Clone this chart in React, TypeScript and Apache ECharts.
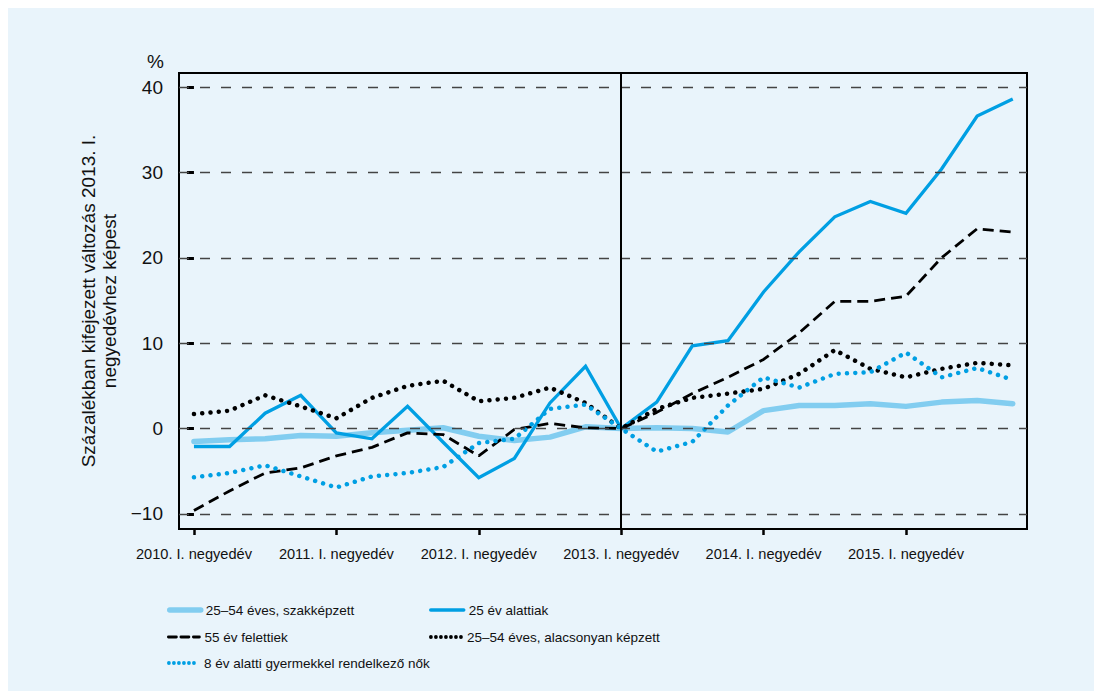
import React, { useEffect, useRef } from "react";
import * as echarts from "echarts";

const TICK_POS = [0, 4, 8, 12, 16, 20];
const TICK_LABELS = [
  "2010. I. negyedév",
  "2011. I. negyedév",
  "2012. I. negyedév",
  "2013. I. negyedév",
  "2014. I. negyedév",
  "2015. I. negyedév",
];
const Y_TICKS = [-10, 0, 10, 20, 30, 40];

const NAMES = [
  "25–54 éves, szakképzett",
  "25 év alattiak",
  "55 év felettiek",
  "25–54 éves, alacsonyan képzett",
  "8 év alatti gyermekkel rendelkező nők",
];

const szakkepzett = [-1.5, -1.3, -1.2, -0.8, -0.9, -0.5, -0.2, 0.1, -0.9, -1.4, -1.0, 0.2, 0, 0.1, 0, -0.4, 2.1, 2.7, 2.7, 2.9, 2.6, 3.1, 3.3, 2.9];
const alatt25 = [-2.1, -2.1, 1.8, 3.9, -0.5, -1.2, 2.6, -1.6, -5.75, -3.5, 3.0, 7.3, 0, 3.1, 9.7, 10.3, 16.0, 20.7, 24.8, 26.6, 25.2, 30.4, 36.6, 38.6];
const felett55 = [-9.6, -7.3, -5.2, -4.6, -3.2, -2.2, -0.5, -0.7, -3.2, -0.1, 0.6, 0.1, 0, 1.9, 4.1, 6.0, 8.1, 11.2, 14.9, 14.9, 15.5, 20.0, 23.4, 23.0];
const alacsony = [1.7, 2.1, 3.9, 2.6, 1.2, 3.6, 5.0, 5.6, 3.2, 3.6, 4.8, 3.0, 0, 2.3, 3.6, 4.1, 4.65, 6.4, 9.2, 7.0, 6.0, 7.0, 7.7, 7.4];
const nok = [-5.7, -5.2, -4.3, -5.6, -6.9, -5.6, -5.2, -4.5, -1.7, -1.2, 2.3, 2.8, 0, -2.7, -1.55, 2.7, 6.0, 4.8, 6.4, 6.6, 8.9, 6.0, 7.1, 5.7];

const LIGHT = "#82cdf0";
const BLUE = "#009fe3";
const BLACK = "#000000";
const PANEL = "#e9f4fb";
const REG = "'Liberation Sans', Arial, sans-serif";

const toPts = (arr: number[]) => arr.map((v, i) => [i, v]);

export default function App() {
  const ref = useRef<HTMLDivElement>(null);
  useEffect(() => {
    if (!ref.current) return;
    const chart = echarts.init(ref.current, null, { renderer: "svg" });

    const legendBase = (name: string, left: number, top: number, width: number, type: any, color: string, lw: number) => ({
      data: [name],
      left,
      top,
      padding: 0,
      itemWidth: width,
      itemHeight: 16,
      selectedMode: false,
      textStyle: { fontFamily: REG, fontSize: 13.5, color: "#111", lineHeight: 16 },
      itemStyle: { color: "rgba(0,0,0,0)", borderWidth: 0, opacity: 0 },
      lineStyle: { width: lw, type, color, cap: "round" },
    });

    const option: any = {
      animation: false,
      textStyle: { fontFamily: REG },
      grid: {
        left: 171,
        top: 65,
        width: 848,
        height: 456,
        show: true,
        borderColor: "#000",
        borderWidth: 2,
        backgroundColor: "transparent",
      },
      xAxis: {
        type: "value",
        min: -0.42,
        max: 23.4,
        splitLine: { show: false },
        axisLine: { show: false, onZero: false },
        axisTick: {
          show: true,
          length: 6,
          customValues: TICK_POS,
          lineStyle: { color: "#000", width: 2.5 },
        },
        axisLabel: {
          customValues: TICK_POS,
          margin: 17,
          fontFamily: REG,
          fontSize: 14.6,
          color: "#111",
          formatter: (v: number) => TICK_LABELS[TICK_POS.indexOf(Math.round(v))] ?? "",
        },
      },
      yAxis: {
        type: "value",
        min: -11.76,
        max: 41.64,
        splitLine: { show: false },
        axisLine: { show: false },
        axisTick: {
          show: true,
          length: 7,
          customValues: Y_TICKS,
          lineStyle: { color: "#000", width: 3 },
        },
        axisLabel: {
          customValues: Y_TICKS,
          margin: 16,
          fontFamily: REG,
          fontSize: 19,
          color: "#111",
          formatter: (v: number) => (v < 0 ? "−" + Math.abs(v) : String(v)),
        },
        name: "Százalékban kifejezett változás 2013. I.\nnegyedévhez képest",
        nameLocation: "middle",
        nameRotate: 90,
        nameGap: 50,
        nameTextStyle: { fontFamily: REG, fontSize: 19, color: "#111", lineHeight: 21 },
      },
      legend: [
        legendBase(NAMES[0], 159, 594, 31, "solid", LIGHT, 5.5),
        legendBase(NAMES[1], 421, 594, 33, "solid", BLUE, 3.5),
        legendBase(NAMES[2], 159, 621, 31, [8, 4.5], BLACK, 2.8),
        legendBase(NAMES[3], 421, 621, 31, [0.01, 5], BLACK, 3.8),
        legendBase(NAMES[4], 159, 647, 30, [0.01, 5], BLUE, 3.8),
      ],
      graphic: [
        {
          type: "text",
          left: 139,
          top: 44,
          style: { text: "%", fontFamily: REG, fontSize: 19, fill: "#111" },
        },
      ],
      series: [
        {
          type: "line",
          name: "grid",
          data: [],
          z: 1,
          silent: true,
          markLine: {
            silent: true,
            symbol: "none",
            label: { show: false },
            lineStyle: { color: "#444", width: 1.3, type: [10, 11] },
            data: Y_TICKS.map((v) => ({ yAxis: v })),
          },
        },
        {
          type: "line",
          name: "vline",
          data: [],
          z: 2,
          silent: true,
          markLine: {
            silent: true,
            symbol: "none",
            label: { show: false },
            lineStyle: { color: "#000", width: 2, type: "solid" },
            data: [{ xAxis: 12 }],
          },
        },
        {
          type: "line",
          name: NAMES[0],
          data: toPts(szakkepzett),
          symbol: "none",
          z: 3,
          lineStyle: { color: LIGHT, width: 5.5, cap: "round", join: "round" },
          itemStyle: { color: LIGHT },
        },
        {
          type: "line",
          name: NAMES[1],
          data: toPts(alatt25),
          symbol: "none",
          z: 4,
          lineStyle: { color: BLUE, width: 3.3, join: "miter" },
          itemStyle: { color: BLUE },
        },
        {
          type: "line",
          name: NAMES[2],
          data: toPts(felett55),
          symbol: "none",
          z: 4,
          lineStyle: { color: BLACK, width: 2.8, type: [11, 6] },
          itemStyle: { color: BLACK },
        },
        {
          type: "line",
          name: NAMES[3],
          data: toPts(alacsony),
          symbol: "none",
          z: 4,
          lineStyle: { color: BLACK, width: 4.5, type: [0.01, 8.3], cap: "round" },
          itemStyle: { color: BLACK },
        },
        {
          type: "line",
          name: NAMES[4],
          data: toPts(nok),
          symbol: "none",
          z: 4,
          lineStyle: { color: BLUE, width: 4.5, type: [0.01, 8.3], cap: "round" },
          itemStyle: { color: BLUE },
        },
      ],
    };
    chart.setOption(option);
    return () => chart.dispose();
  }, []);

  return (
    <div style={{ position: "fixed", left: 0, top: 0, right: 0, bottom: 0, background: PANEL, overflow: "hidden" }}>
      <div style={{ position: "absolute", left: 0, top: 0, right: 0, height: 8, background: "#fff" }} />
      <div style={{ position: "absolute", left: 0, top: 0, bottom: 0, width: 8, background: "#fff" }} />
      <div ref={ref} style={{ position: "absolute", left: 8, top: 8, width: 1086, height: 683 }} />
    </div>
  );
}
